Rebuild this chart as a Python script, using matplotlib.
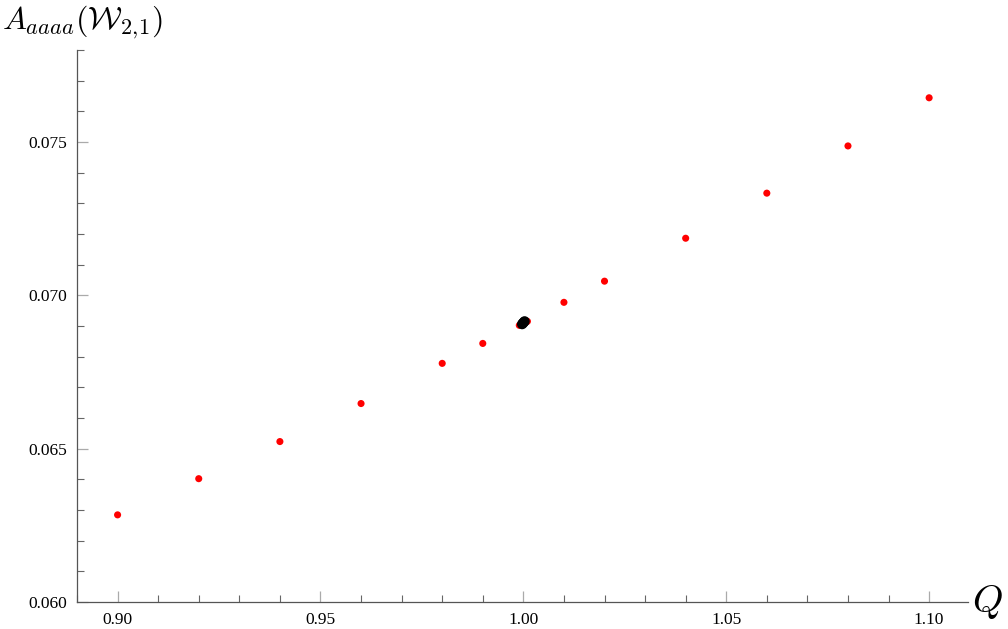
import matplotlib.pyplot as plt
from matplotlib.ticker import MultipleLocator, FormatStrFormatter

plt.rcParams['font.family'] = ['Liberation Serif', 'DejaVu Serif']
plt.rcParams['mathtext.fontset'] = 'cm'

# red points
q_red = [0.90, 0.92, 0.94, 0.96, 0.98, 0.99, 0.999, 1.001, 1.01, 1.02, 1.04, 1.06, 1.08, 1.10]
a_red = [0.06284, 0.06402, 0.06523, 0.06647, 0.06778, 0.06843, 0.06902, 0.06915,
         0.06977, 0.07046, 0.07186, 0.07333, 0.07487, 0.07644]

# black cluster near Q = 1
q_black = [0.9997, 0.9999, 1.0001, 1.0003]
a_black = [0.06906, 0.06909, 0.06912, 0.06915]

fig = plt.figure(figsize=(10.08, 6.29), dpi=100)
ax = fig.add_axes([0.0764, 0.043, 0.884, 0.8776])

ax.scatter(q_red, a_red, s=26, color='#ff0000', edgecolors='none', zorder=3)
ax.scatter(q_black, a_black, s=55, color='black', edgecolors='none', zorder=4)

ax.set_xlim(0.890, 1.1096)
ax.set_ylim(0.060, 0.0780)

ax.xaxis.set_major_locator(MultipleLocator(0.05))
ax.xaxis.set_minor_locator(MultipleLocator(0.01))
ax.yaxis.set_major_locator(MultipleLocator(0.005))
ax.yaxis.set_minor_locator(MultipleLocator(0.001))
ax.xaxis.set_major_formatter(FormatStrFormatter('%.2f'))
ax.yaxis.set_major_formatter(FormatStrFormatter('%.3f'))

for side in ['top', 'right']:
    ax.spines[side].set_visible(False)
for side in ['left', 'bottom']:
    ax.spines[side].set_color('#555555')
    ax.spines[side].set_linewidth(0.9)

ax.tick_params(which='major', direction='in', length=8, width=0.9, color='#aaaaaa',
               labelsize=12.5, pad=7)
ax.tick_params(which='minor', direction='in', length=5, width=0.8, color='#666666')

fig.text(0.002, 0.965, r'$A_{aaaa}(\mathcal{W}_{2,\!1})$', fontsize=23, ha='left', va='center')
fig.text(0.995, 0.043, r'$Q$', fontsize=28, ha='right', va='center')

fig.savefig('out.png', dpi=100)
